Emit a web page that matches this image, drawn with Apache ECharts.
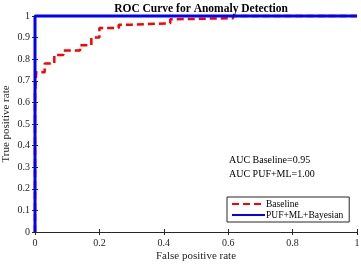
<!DOCTYPE html>
<html><head><meta charset="utf-8">
<script src="https://cdn.jsdelivr.net/npm/echarts@6/dist/echarts.min.js"></script>
<style>html,body{margin:0;padding:0;background:#fff}#c{width:361px;height:265px}</style>
</head><body><div id="c"></div>
<script>
const titleText = 'ROC Curve for Anomaly Detection';
const xName = 'False positive rate';
const yName = 'True positive rate';
const seriesNames = ['Baseline', 'PUF+ML+Bayesian'];
const aucLabels = ['AUC Baseline=0.95', 'AUC PUF+ML=1.00'];
const baseFpr = [0, 0, 0.004, 0.004, 0.03, 0.03, 0.06, 0.06, 0.088, 0.088, 0.14, 0.14, 0.175, 0.175, 0.2, 0.2, 0.26, 0.26, 0.3, 0.3, 0.42, 0.42, 0.44, 0.44, 0.615, 0.615, 1];
const baseTpr = [0, 0.645, 0.645, 0.74, 0.74, 0.78, 0.78, 0.82, 0.82, 0.84, 0.84, 0.865, 0.865, 0.9, 0.9, 0.945, 0.945, 0.96, 0.96, 0.966, 0.966, 0.985, 0.985, 0.99, 0.99, 1, 1];
const pufFpr = [0, 0, 1];
const pufTpr = [0, 1, 1];

const zip = (a, b) => a.map((v, i) => [v, b[i]]);
const FONT = 'Liberation Serif';
const AX = '#262626';
const chart = echarts.init(document.getElementById('c'));
const axCommon = {
  type: 'value', min: 0, max: 1,
  axisLine: { show: true, lineStyle: { color: AX, width: 1 } },
  axisTick: { show: true, inside: true, length: 3, lineStyle: { color: AX } },
  splitLine: { show: false },
};
chart.setOption({
  animation: false,
  title: { text: titleText, left: 196, textAlign: 'center', top: -2,
    textStyle: { fontFamily: FONT, fontSize: 11.5, fontWeight: 'bold', color: '#000' } },
  grid: { left: 35, right: 4, top: 16, bottom: 33, outerBoundsMode: 'none', containLabel: false },
  xAxis: [
    Object.assign({}, axCommon, { position: 'bottom', interval: 0.2, name: xName, nameLocation: 'middle', nameGap: 19,
      nameMoveOverlap: false,
      nameTextStyle: { fontFamily: FONT, fontSize: 11, color: AX },
      axisLabel: { fontFamily: FONT, fontSize: 10, color: AX, margin: 6 } }),
    Object.assign({}, axCommon, { position: 'top', interval: 0.2, axisLabel: { show: false } })
  ],
  yAxis: [
    Object.assign({}, axCommon, { position: 'left', interval: 0.1, name: yName, nameLocation: 'middle', nameGap: 23,
      nameMoveOverlap: false,
      nameTextStyle: { fontFamily: FONT, fontSize: 11, color: AX },
      axisLabel: { fontFamily: FONT, fontSize: 10, color: AX, margin: 5 } }),
    Object.assign({}, axCommon, { position: 'right', interval: 0.1, axisLabel: { show: false } })
  ],
  legend: {
    orient: 'vertical', left: 227, top: 197,
    backgroundColor: '#fff', borderColor: AX, borderWidth: 1, borderRadius: 0,
    padding: [2, 6, 2, 4], itemGap: 1, itemWidth: 33, itemHeight: 10,
    itemStyle: { opacity: 0 },
    textStyle: { fontFamily: FONT, fontSize: 9.5, color: '#000', padding: [0, 0, 0, -4] },
    data: seriesNames
  },
  graphic: [
    { type: 'text', left: 229, top: 155, style: { text: aucLabels[0], font: '10px "Liberation Serif"', fill: '#000' } },
    { type: 'text', left: 229, top: 169, style: { text: aucLabels[1], font: '10px "Liberation Serif"', fill: '#000' } }
  ],
  series: [
    { name: seriesNames[0], type: 'line', data: zip(baseFpr, baseTpr), symbol: 'none', clip: false,
      lineStyle: { color: '#ff0000', width: 2.5, type: [7, 4] }, itemStyle: { color: '#ff0000' } },
    { name: seriesNames[1], type: 'line', data: zip(pufFpr, pufTpr), symbol: 'none', clip: false,
      lineStyle: { color: '#0000ff', width: 3 }, itemStyle: { color: '#0000ff' } }
  ]
});
</script></body></html>
